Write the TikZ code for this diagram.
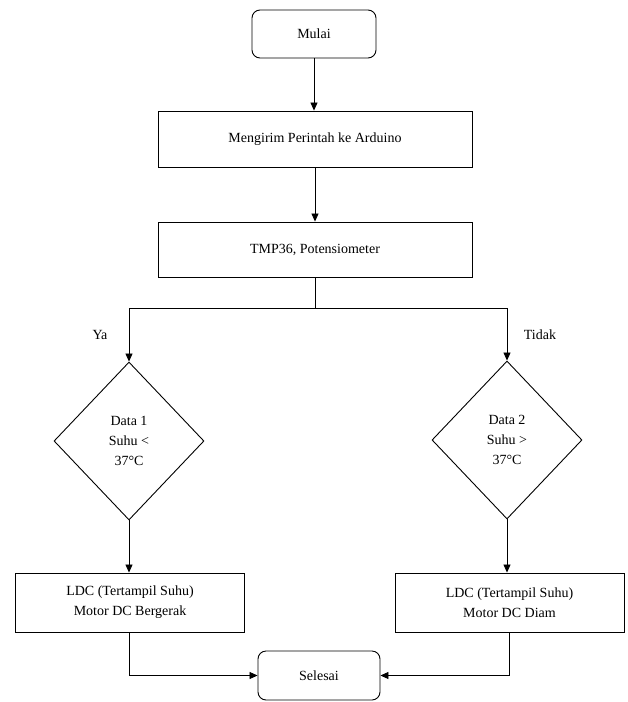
\documentclass[tikz,border=0pt]{standalone}
\usepackage{fontspec}
\setmainfont{LiberationSerif}[Extension=.ttf, UprightFont=*-Regular, BoldFont=*-Bold]
\usetikzlibrary{shapes.geometric,arrows.meta}
\begin{document}
\begin{tikzpicture}[x=1pt,y=-1pt,
  every node/.style={font=\fontsize{14}{20}\selectfont, align=center, inner sep=0pt},
  boxst/.style={draw, line width=0.9pt},
  roundst/.style={boxst, rounded corners=8pt},
  decst/.style={draw, diamond, line width=0.9pt, minimum width=150pt, minimum height=158pt},
  conn/.style={draw, line width=0.8pt},
  arr/.style={conn, -{Triangle[length=8pt,width=7pt]}}]
\useasboundingbox (0,0) rectangle (627,702);
\node[roundst, minimum width=124pt, minimum height=48pt] (mulai) at (314,34) {Mulai};
\node[boxst, minimum width=314pt, minimum height=56pt] (send) at (315,139) {Mengirim Perintah ke Arduino};
\node[boxst, minimum width=314pt, minimum height=55pt] (tmp) at (315,249.5) {TMP36, Potensiometer};
\coordinate (j) at (315,308);
\node[decst] (d1) at (129,441) {Data 1\\Suhu <\\37°C};
\node[decst] (d2) at (507,440) {Data 2\\Suhu >\\37°C};
\node[boxst, minimum width=229pt, minimum height=59pt] (b1) at (130,602.5) {LDC (Tertampil Suhu)\\Motor DC Bergerak};
\node[boxst, minimum width=229pt, minimum height=59pt] (b2) at (509.5,602.5) {LDC (Tertampil Suhu)\\Motor DC Diam};
\node[roundst, minimum width=122pt, minimum height=49pt] (sel) at (319,675.5) {Selesai};
\node (ya) at (100,335) {Ya};
\node (tidak) at (540,335) {Tidak};
\draw[arr] (mulai.south) -- (send.north -| mulai.south);
\draw[arr] (send.south) -- (tmp.north);
\draw[conn] (tmp.south) -- (j);
\draw[arr] (j) -| (d1.north);
\draw[arr] (j) -| (d2.north);
\draw[arr] (d1.south) -- (d1.south |- b1.north);
\draw[arr] (d2.south) -- (d2.south |- b2.north);
\draw[arr] (d1.south |- b1.south) |- (sel.west);
\draw[arr] (b2.south) |- (sel.east);
\end{tikzpicture}
\end{document}
